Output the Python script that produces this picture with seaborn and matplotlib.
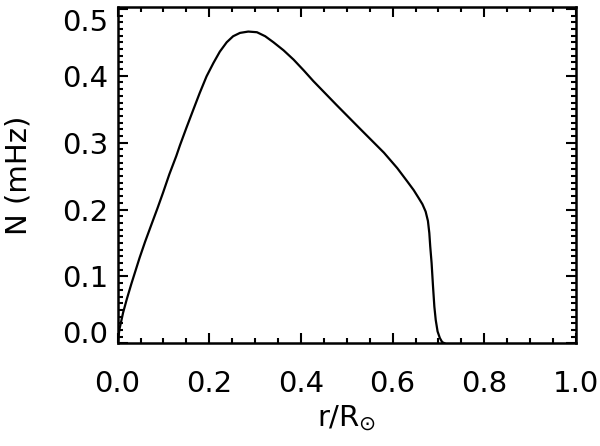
"""
Buoyancy frequency profile N(r) vs fractional radius
"""
import numpy as np
import pandas as pd
import matplotlib
matplotlib.use("Agg")
import matplotlib.pyplot as plt
import seaborn as sns
from matplotlib.ticker import MultipleLocator

sns.set_style("ticks")
plt.rcParams['font.family'] = ['DejaVu Sans']
plt.rcParams['text.color'] = 'black'
plt.rcParams['axes.labelcolor'] = 'black'
plt.rcParams['xtick.color'] = 'black'
plt.rcParams['ytick.color'] = 'black'

# values
radius = [0.000, 0.004, 0.012, 0.020, 0.030, 0.048, 0.060, 0.074, 0.087,
          0.099, 0.113, 0.128, 0.136, 0.150, 0.165, 0.179, 0.194, 0.209,
          0.223, 0.238, 0.252, 0.267, 0.285, 0.304, 0.322, 0.340, 0.362,
          0.384, 0.406, 0.427, 0.478, 0.530, 0.581, 0.610, 0.632, 0.646,
          0.657, 0.665, 0.672, 0.677, 0.680, 0.682, 0.685, 0.688, 0.691,
          0.694, 0.698, 0.703, 0.708, 0.714]
freq = [0.000, 0.021, 0.046, 0.066, 0.089, 0.128, 0.152, 0.178, 0.202,
        0.225, 0.253, 0.280, 0.296, 0.322, 0.349, 0.374, 0.399, 0.419,
        0.436, 0.450, 0.459, 0.464, 0.466, 0.465, 0.459, 0.450, 0.438,
        0.424, 0.408, 0.392, 0.356, 0.320, 0.285, 0.262, 0.242, 0.229,
        0.217, 0.208, 0.197, 0.183, 0.165, 0.145, 0.120, 0.086, 0.055,
        0.035, 0.018, 0.008, 0.002, 0.000]

xticks = [0.0, 0.2, 0.4, 0.6, 0.8, 1.0]
yticks = [0.0, 0.1, 0.2, 0.3, 0.4, 0.5]

df = pd.DataFrame({'r': radius, 'N': freq})

fig = plt.figure(figsize=(6.0, 4.46), dpi=100)
ax = fig.add_axes([0.196, 0.23, 0.764, 0.754])

sns.lineplot(data=df, x='r', y='N', color='black', linewidth=1.6, ax=ax)

ax.set_xlim(0, 1)
ax.set_ylim(0, 0.5025)
ax.set_xticks(xticks)
ax.set_yticks(yticks)
ax.set_xticklabels([f'{t:.1f}' for t in xticks])
ax.set_yticklabels([f'{t:.1f}' for t in yticks])
ax.xaxis.set_minor_locator(MultipleLocator(0.05))
ax.yaxis.set_minor_locator(MultipleLocator(0.01))

for s in ax.spines.values():
    s.set_visible(True)
    s.set_linewidth(1.8)
    s.set_color('black')

ax.tick_params(which='both', direction='in', top=True, right=True,
               color='black', width=1.5)
ax.tick_params(which='major', length=7.5)
ax.tick_params(which='minor', length=3.8)
ax.tick_params(axis='x', which='major', labelsize=21, pad=19)
ax.tick_params(axis='y', which='major', labelsize=21, pad=7)

# end labels sit inside the axis range, like the original
ylabs = ax.get_yticklabels()
ylabs[0].set_va('baseline')
ylabs[-1].set_va('top')

ax.set_xlabel(r'r/R$_{\odot}$', fontsize=21, labelpad=4)
ax.set_ylabel('N (mHz)', fontsize=21, labelpad=21)

plt.savefig('out.png', dpi=100)
plt.close()
